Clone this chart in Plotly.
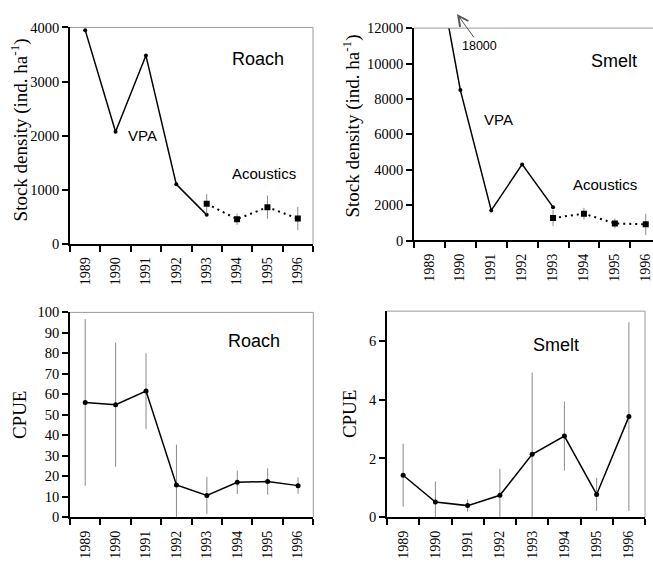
import plotly.graph_objects as go

# ---------------- data ----------------
years = [1989, 1990, 1991, 1992, 1993, 1994, 1995, 1996]
year_labels = ["1989", "1990", "1991", "1992", "1993", "1994", "1995", "1996"]
year_bounds = [1988.5, 1989.5, 1990.5, 1991.5, 1992.5, 1993.5, 1994.5, 1995.5, 1996.5]

vpa_years = [1989, 1990, 1991, 1992, 1993]
acoustic_years = [1993, 1994, 1995, 1996]

roach_vpa = [3950, 2070, 3480, 1100, 535]
roach_acoustic = [740, 456, 677, 467]
roach_acoustic_err = [180, 105, 215, 215]

smelt_vpa = [18000, 8500, 1700, 4300, 1885]
smelt_acoustic = [1270, 1517, 967, 912]
smelt_acoustic_err = [450, 330, 270, 600]

roach_cpue = [56.1, 55.0, 61.6, 15.8, 10.7, 17.1, 17.5, 15.5]
roach_cpue_err = [40.6, 30.3, 18.5, 19.7, 9.0, 5.7, 6.4, 4.0]

smelt_cpue = [1.43, 0.52, 0.40, 0.75, 2.14, 2.76, 0.78, 3.42]
smelt_cpue_err = [1.07, 0.70, 0.21, 0.90, 2.78, 1.17, 0.56, 3.20]

roach_density_ticks = [0, 1000, 2000, 3000, 4000]
smelt_density_ticks = [0, 2000, 4000, 6000, 8000, 10000, 12000]
roach_cpue_ticks = [0, 10, 20, 30, 40, 50, 60, 70, 80, 90, 100]
smelt_cpue_ticks = [0, 2, 4, 6]

# ---------------- layout helpers ----------------
W, H = 653, 563


def fx(p):
    return p / W


def fy(p):
    return 1 - p / H


def aref(prefix, n):
    return prefix + ("" if n == 1 else str(n))


def akey(prefix, n):
    return prefix + "axis" + ("" if n == 1 else str(n))


panels = [
    dict(x0=70, x1=313, y0=20, y1=242.7, xr=[1988.5, 1996.5], yr=[0, 4000],
         yt=roach_density_ticks, right=True),
    dict(x0=414, x1=653, y0=20.7, y1=239.3,
         xr=[1988.5, 1988.5 + (653 - 414) / 30.9], yr=[0, 12000],
         yt=smelt_density_ticks, right=False),
    dict(x0=70, x1=313.3, y0=313.3, y1=524.3, xr=[1988.5, 1996.5], yr=[0, 100],
         yt=roach_cpue_ticks, right=True),
    dict(x0=387, x1=645, y0=312, y1=524.3, xr=[1988.5, 1996.5], yr=[0, 7],
         yt=smelt_cpue_ticks, right=True),
]

serif = "Liberation Serif"
sans = "Liberation Sans"
grey_err = "#8a8a8a"
frame_grey = "#9a9a9a"

fig = go.Figure()
layout = dict(
    width=W, height=H, margin=dict(l=0, r=0, t=0, b=0),
    paper_bgcolor="white", plot_bgcolor="white", showlegend=False,
)
shapes = []

for i, p in enumerate(panels, start=1):
    xid, yid = aref("x", i), aref("y", i)
    # pixels per year, used to shift each label from its left boundary tick
    # to the middle of its year slot
    px_per_year = (p["x1"] - p["x0"]) / (p["xr"][1] - p["xr"][0])
    layout[akey("x", i)] = dict(
        domain=[fx(p["x0"]), fx(p["x1"])], range=p["xr"], anchor=yid,
        tickmode="array", tickvals=year_bounds, ticktext=year_labels + [""],
        ticklabelshift=int(round(px_per_year / 2)), tickangle=-90,
        ticks="outside", ticklen=6, tickwidth=1.5, tickcolor="black",
        showline=True, linecolor="black", linewidth=1.5,
        showgrid=False, zeroline=False, ticklabeloverflow="allow",
        tickfont=dict(family=serif, size=14, color="black"),
    )
    layout[akey("y", i)] = dict(
        domain=[fy(p["y1"]), fy(p["y0"])], range=p["yr"], anchor=xid,
        tickmode="array", tickvals=p["yt"], ticktext=[str(v) for v in p["yt"]],
        ticks="outside", ticklen=6, tickwidth=1.5, tickcolor="black",
        showline=True, linecolor="black", linewidth=1.5,
        showgrid=False, zeroline=False,
        tickfont=dict(family=serif, size=14.5, color="black"),
    )
    # grey frame lines (top and right)
    shapes.append(dict(type="line", xref="paper", yref="paper",
                       x0=fx(p["x0"]), x1=fx(p["x1"]), y0=fy(p["y0"]), y1=fy(p["y0"]),
                       line=dict(color=frame_grey, width=1)))
    if p["right"]:
        shapes.append(dict(type="line", xref="paper", yref="paper",
                           x0=fx(p["x1"]), x1=fx(p["x1"]),
                           y0=fy(p["y1"]), y1=fy(p["y0"]),
                           line=dict(color=frame_grey, width=1)))

vpa_line = dict(color="black", width=1.5)
vpa_marker = dict(size=4, color="black")
ac_line = dict(color="black", width=2, dash="2px,4px")
ac_marker = dict(symbol="square", size=6, color="black")

# Panel 1: roach stock density
fig.add_trace(go.Scatter(x=vpa_years, y=roach_vpa, mode="lines+markers",
                         line=vpa_line, marker=vpa_marker, xaxis="x", yaxis="y"))
fig.add_trace(go.Scatter(x=acoustic_years, y=roach_acoustic, mode="lines+markers",
                         line=ac_line, marker=ac_marker,
                         error_y=dict(type="data", array=roach_acoustic_err,
                                      color=grey_err, thickness=1, width=0),
                         xaxis="x", yaxis="y"))

# Panel 2: smelt stock density
fig.add_trace(go.Scatter(x=vpa_years, y=smelt_vpa, mode="lines+markers",
                         line=vpa_line, marker=vpa_marker, xaxis="x2", yaxis="y2"))
fig.add_trace(go.Scatter(x=acoustic_years, y=smelt_acoustic, mode="lines+markers",
                         line=ac_line, marker=ac_marker,
                         error_y=dict(type="data", array=smelt_acoustic_err,
                                      color=grey_err, thickness=1, width=0),
                         xaxis="x2", yaxis="y2"))

# Panel 3: roach CPUE
fig.add_trace(go.Scatter(x=years, y=roach_cpue, mode="lines+markers",
                         line=dict(color="black", width=1.5),
                         marker=dict(size=5, color="black"),
                         error_y=dict(type="data", array=roach_cpue_err,
                                      color=grey_err, thickness=1, width=0),
                         xaxis="x3", yaxis="y3"))

# Panel 4: smelt CPUE
fig.add_trace(go.Scatter(x=years, y=smelt_cpue, mode="lines+markers",
                         line=dict(color="black", width=1.5),
                         marker=dict(size=5, color="black"),
                         error_y=dict(type="data", array=smelt_cpue_err,
                                      color=grey_err, thickness=1, width=0),
                         xaxis="x4", yaxis="y4"))


def label(text, px, py, size, family=sans, angle=0):
    return dict(text=text, x=fx(px), y=fy(py), xref="paper", yref="paper",
                xanchor="center", yanchor="middle", showarrow=False,
                textangle=angle, font=dict(family=family, size=size, color="black"))


annotations = [
    label("Roach", 258, 52, 18),
    label("VPA", 142, 131, 15),
    label("Acoustics", 264, 170, 15),
    label("Smelt", 614, 55, 18),
    label("VPA", 498, 115, 15),
    label("Acoustics", 605, 182, 15),
    label("Roach", 254, 343, 18),
    label("Smelt", 556, 347, 18),
    label("Stock density (ind. ha<sup>-1</sup>)", 19, 126, 19, serif, -90),
    label("Stock density (ind. ha<sup>-1</sup>)", 352, 122, 19, serif, -90),
    label("CPUE", 19, 419, 19, serif, -90),
    label("CPUE", 349, 418, 19, serif, -90),
    dict(text="18000", x=1988.5 + (457 - 414) / 30.9, y=1.067,
         xref="x2", yref="y2 domain", showarrow=True, ax=23, ay=32,
         arrowhead=5, arrowsize=2, arrowwidth=1, arrowcolor="#555555",
         standoff=0, font=dict(family=sans, size=12.5, color="black")),
]

layout["shapes"] = shapes
layout["annotations"] = annotations
fig.update_layout(**layout)

fig.write_html("out.html")
